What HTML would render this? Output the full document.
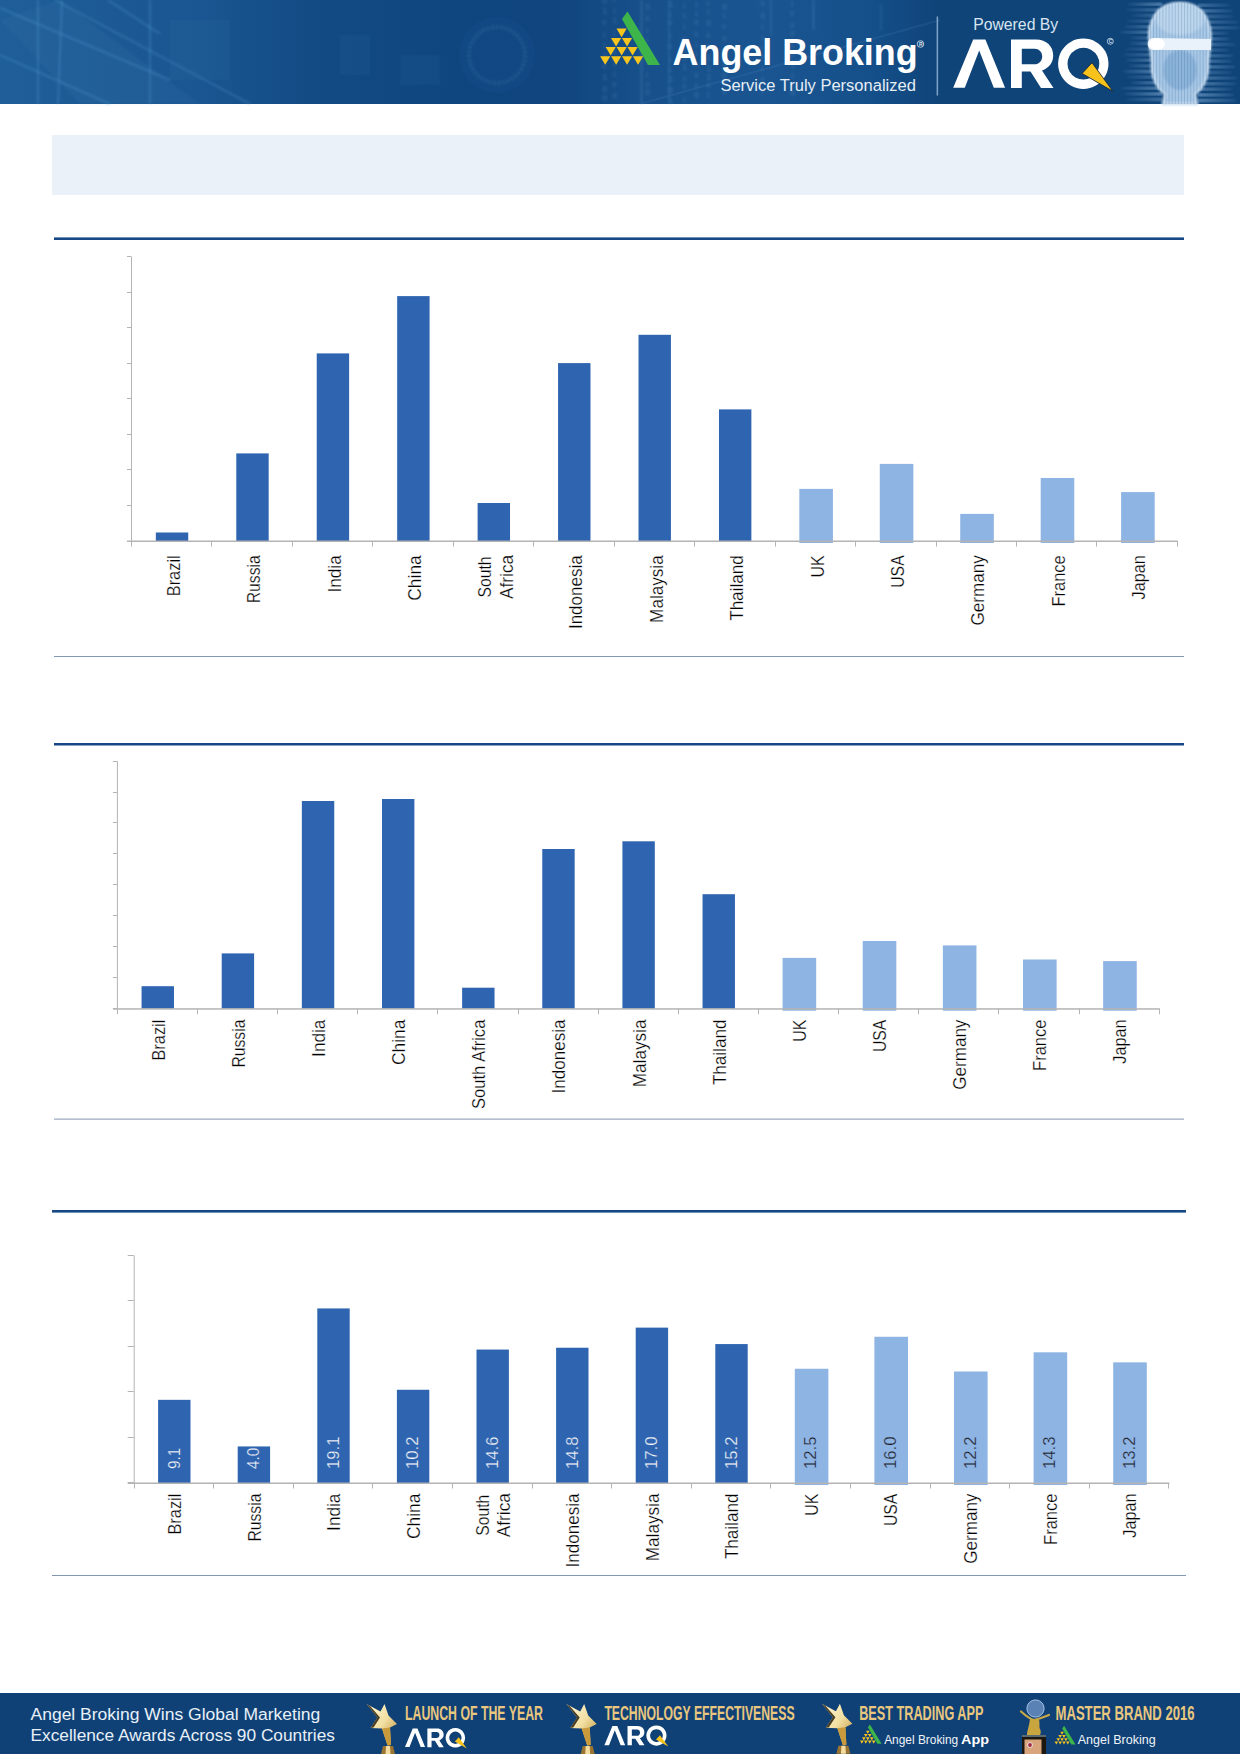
<!DOCTYPE html>
<html><head><meta charset="utf-8">
<style>
html,body{margin:0;padding:0;background:#fff;}
body{width:1240px;height:1754px;overflow:hidden;position:relative;font-family:"Liberation Sans",sans-serif;}
.hdr{position:absolute;left:0;top:0;width:1240px;height:104px;background:linear-gradient(90deg,#215f99 0%,#1c5891 22%,#154c85 42%,#114680 60%,#0f4479 80%,#0f4478 100%);overflow:hidden;}
.box{position:absolute;left:52px;top:135px;width:1132px;height:60px;background:#eaf1f8;}
.ftr{position:absolute;left:0;top:1693px;width:1240px;height:61px;background:#0f4176;overflow:hidden;}
svg{position:absolute;left:0;top:0;}
</style></head><body>
<div class="box"></div>
<svg width="1240" height="1754" viewBox="0 0 1240 1754" font-family="Liberation Sans, sans-serif">
<defs><linearGradient id="hg" gradientUnits="userSpaceOnUse" x1="0" y1="0" x2="1240" y2="0"><stop offset="0" stop-color="#1f5e98"/><stop offset="0.16" stop-color="#1a5691"/><stop offset="0.25" stop-color="#134b85"/><stop offset="0.36" stop-color="#0f4680"/><stop offset="0.45" stop-color="#10457f"/><stop offset="0.52" stop-color="#17508b"/><stop offset="0.62" stop-color="#1a5591"/><stop offset="0.70" stop-color="#15508b"/><stop offset="0.755" stop-color="#0f4479"/><stop offset="1" stop-color="#0f4479"/></linearGradient><radialGradient id="face" cx="0.5" cy="0.45" r="0.5"><stop offset="0" stop-color="#b4d0ea"/><stop offset="0.75" stop-color="#a2c4e4"/><stop offset="1" stop-color="#7eaad6" stop-opacity="0.6"/></radialGradient><linearGradient id="streak" x1="0" y1="0" x2="1" y2="0"><stop offset="0" stop-color="#8fb8e0" stop-opacity="0"/><stop offset="0.25" stop-color="#9cc2e6" stop-opacity="0.55"/><stop offset="0.75" stop-color="#9cc2e6" stop-opacity="0.55"/><stop offset="1" stop-color="#8fb8e0" stop-opacity="0"/></linearGradient><linearGradient id="stl" x1="0" y1="0" x2="1" y2="0"><stop offset="0" stop-color="#8db6de" stop-opacity="0.1"/><stop offset="1" stop-color="#a8cbec" stop-opacity="0.8"/></linearGradient><linearGradient id="str" x1="0" y1="0" x2="1" y2="0"><stop offset="0" stop-color="#a8cbec" stop-opacity="0.8"/><stop offset="1" stop-color="#8db6de" stop-opacity="0.15"/></linearGradient><filter id="blur1" x="-10%" y="-10%" width="120%" height="120%"><feGaussianBlur stdDeviation="1.2"/></filter><filter id="blur2" x="-10%" y="-10%" width="120%" height="120%"><feGaussianBlur stdDeviation="0.8"/></filter></defs>
<rect x="0" y="0" width="1240" height="104" fill="url(#hg)"/>
<g stroke="#4f92c8" stroke-opacity="0.28" stroke-width="2.5" fill="none" filter="url(#blur1)"><path d="M0 8 L170 80"/><path d="M0 55 L110 104"/><path d="M55 0 L250 104"/><path d="M108 0 L160 34"/><path d="M38 0 L38 104"/><path d="M62 0 L58 104"/><path d="M150 0 L150 104"/></g>
<path d="M0 20 L60 0 L200 104 L80 104 Z" fill="#5a9ad0" fill-opacity="0.08" filter="url(#blur1)"/>
<g fill="#3a7ab5" fill-opacity="0.10" filter="url(#blur1)"><rect x="170" y="20" width="60" height="60"/><rect x="340" y="35" width="30" height="40"/><rect x="400" y="55" width="40" height="30"/></g>
<circle cx="497" cy="55" r="28" fill="none" stroke="#5a92c8" stroke-opacity="0.22" stroke-width="4" stroke-dasharray="2.5 2" filter="url(#blur2)"/>
<circle cx="497" cy="55" r="38" fill="#2a6aa5" fill-opacity="0.10"/>
<g fill="#6fa4d6" fill-opacity="0.14" filter="url(#blur2)"><rect x="640" y="0" width="3" height="104"/><rect x="668" y="0" width="2" height="104"/><rect x="770" y="0" width="2" height="35"/><rect x="812" y="0" width="3" height="30"/><rect x="880" y="5" width="2" height="25"/></g>
<g fill="#8bb8e4" fill-opacity="0.22" font-family="Liberation Mono, monospace" filter="url(#blur2)"><text x="602" y="3.9" font-size="9">0</text><text x="602" y="13.8" font-size="9">1</text><text x="602" y="24.9" font-size="7">0</text><text x="602" y="37.4" font-size="8">1</text><text x="602" y="48.2" font-size="7">1</text><text x="602" y="58.9" font-size="9">1</text><text x="602" y="68.9" font-size="7">0</text><text x="602" y="80.0" font-size="9">1</text><text x="602" y="91.8" font-size="9">0</text><text x="602" y="100.5" font-size="9">0</text><text x="612" y="2.2" font-size="8">1</text><text x="612" y="13.2" font-size="8">1</text><text x="612" y="23.2" font-size="9">1</text><text x="612" y="36.0" font-size="7">1</text><text x="612" y="44.5" font-size="7">1</text><text x="612" y="53.6" font-size="9">1</text><text x="612" y="65.5" font-size="8">1</text><text x="612" y="76.0" font-size="8">1</text><text x="612" y="86.7" font-size="8">0</text><text x="612" y="99.2" font-size="9">0</text><text x="645" y="9.9" font-size="9">0</text><text x="645" y="21.4" font-size="8">0</text><text x="645" y="33.0" font-size="7">1</text><text x="645" y="42.4" font-size="7">1</text><text x="645" y="54.7" font-size="8">0</text><text x="645" y="64.4" font-size="7">1</text><text x="645" y="76.9" font-size="7">1</text><text x="645" y="87.0" font-size="8">0</text><text x="645" y="95.2" font-size="9">0</text><text x="668" y="6.7" font-size="9">1</text><text x="668" y="17.2" font-size="7">1</text><text x="668" y="25.3" font-size="7">0</text><text x="668" y="38.0" font-size="8">1</text><text x="668" y="49.1" font-size="7">0</text><text x="668" y="62.0" font-size="8">1</text><text x="668" y="71.8" font-size="7">1</text><text x="668" y="81.6" font-size="9">1</text><text x="668" y="92.9" font-size="9">0</text><text x="668" y="104.0" font-size="9">1</text><text x="682" y="7.8" font-size="7">1</text><text x="682" y="17.9" font-size="8">1</text><text x="682" y="28.7" font-size="7">1</text><text x="682" y="41.6" font-size="8">0</text><text x="682" y="51.5" font-size="9">0</text><text x="682" y="59.8" font-size="9">1</text><text x="682" y="70.1" font-size="9">1</text><text x="682" y="81.2" font-size="8">1</text><text x="682" y="89.3" font-size="7">0</text><text x="682" y="102.1" font-size="8">1</text><text x="694" y="6.8" font-size="7">1</text><text x="694" y="15.7" font-size="8">1</text><text x="694" y="25.2" font-size="8">0</text><text x="694" y="37.1" font-size="7">0</text><text x="694" y="46.7" font-size="7">1</text><text x="694" y="55.8" font-size="7">1</text><text x="694" y="67.1" font-size="7">0</text><text x="694" y="78.1" font-size="8">0</text><text x="694" y="88.3" font-size="7">0</text><text x="694" y="98.0" font-size="9">0</text><text x="706" y="5.6" font-size="7">0</text><text x="706" y="13.8" font-size="7">1</text><text x="706" y="25.8" font-size="9">0</text><text x="706" y="38.1" font-size="8">0</text><text x="706" y="50.2" font-size="8">0</text><text x="706" y="60.3" font-size="9">1</text><text x="706" y="70.6" font-size="9">1</text><text x="706" y="80.0" font-size="9">1</text><text x="706" y="88.2" font-size="8">0</text><text x="706" y="97.2" font-size="8">1</text><text x="722" y="9.9" font-size="9">0</text><text x="722" y="18.0" font-size="8">1</text><text x="722" y="28.8" font-size="7">0</text><text x="722" y="41.1" font-size="8">0</text><text x="722" y="53.1" font-size="7">0</text><text x="722" y="65.6" font-size="9">0</text><text x="722" y="78.1" font-size="8">0</text><text x="722" y="86.2" font-size="9">0</text><text x="722" y="95.0" font-size="8">0</text><text x="760" y="6.2" font-size="8">0</text><text x="760" y="18.9" font-size="9">0</text><text x="760" y="28.6" font-size="8">1</text><text x="760" y="40.7" font-size="7">1</text><text x="760" y="49.8" font-size="7">0</text><text x="760" y="58.6" font-size="8">0</text><text x="760" y="70.7" font-size="7">1</text><text x="760" y="81.9" font-size="8">0</text><text x="760" y="93.7" font-size="7">1</text><text x="790" y="6.2" font-size="7">1</text><text x="790" y="15.8" font-size="7">0</text><text x="790" y="27.6" font-size="7">0</text><text x="790" y="35.9" font-size="8">0</text><text x="790" y="48.2" font-size="7">1</text><text x="790" y="57.8" font-size="8">0</text><text x="790" y="67.5" font-size="9">1</text><text x="790" y="78.4" font-size="8">1</text><text x="790" y="87.4" font-size="8">1</text><text x="790" y="96.0" font-size="9">0</text></g>
<path d="M640 104 L940 20" stroke="#6aa0d4" stroke-opacity="0.12" stroke-width="2" fill="none"/>
<path d="M616.52 28.60 L626.68 28.60 L621.60 37.20 Z M611.02 37.90 L621.18 37.90 L616.10 46.50 Z M621.98 37.90 L632.13 37.90 L627.05 46.50 Z M605.62 47.00 L615.78 47.00 L610.70 55.60 Z M616.58 47.00 L626.73 47.00 L621.65 55.60 Z M627.52 47.00 L637.68 47.00 L632.60 55.60 Z M600.12 56.20 L610.28 56.20 L605.20 64.80 Z M611.08 56.20 L621.23 56.20 L616.15 64.80 Z M622.02 56.20 L632.18 56.20 L627.10 64.80 Z M632.98 56.20 L643.13 56.20 L638.05 64.80 Z" fill="#f8c51c"/>
<path d="M622.00 19.00 L627.50 11.50 L660.00 65.00 L648.00 65.00 Z" fill="#3db54a"/>
<text x="672.6" y="65.4" font-size="36" font-weight="bold" fill="#ffffff" textLength="245" lengthAdjust="spacingAndGlyphs">Angel Broking</text>
<circle cx="920.5" cy="44" r="3.3" fill="none" stroke="#e0e8f0" stroke-width="0.8"/><text x="918.9" y="45.9" font-size="5" font-weight="bold" fill="#e0e8f0">R</text>
<text x="720.4" y="90.5" font-size="17.2" fill="#e6eef6" textLength="195.5" lengthAdjust="spacingAndGlyphs">Service Truly Personalized</text>
<rect x="936.6" y="16.5" width="1.5" height="79" fill="#7fa3c8"/>
<text x="973.2" y="29.7" font-size="16.2" fill="#d8e4f0" textLength="85" lengthAdjust="spacingAndGlyphs">Powered By</text>
<path d="M953.2 87.8 L973.2 39.5 L985.4 39.5 L1005.1 87.8 L993.8 87.8 L979.2 50.5 L964.8 87.8 Z" fill="#ffffff"/><path d="M1011 39.6 L1036 39.6 C1046.5 39.6 1053.2 46.5 1053.2 55.5 C1053.2 62.5 1049 68 1042 70.5 L1053.5 88 L1041 88 L1030.5 71.5 L1021.8 71.5 L1021.8 88 L1011 88 Z M1021.8 48.8 L1034.5 48.8 C1039 48.8 1042.2 52 1042.2 56.5 C1042.2 61 1039 64.3 1034.5 64.3 L1021.8 64.3 Z" fill="#ffffff" fill-rule="evenodd"/><path d="M1083.3 38.5 A25.2 25.2 0 1 1 1083.29 38.5 Z M1083.4 47.8 A15.9 15.9 0 1 0 1083.41 47.8 Z" fill="#ffffff" fill-rule="evenodd"/>
<path d="M1082.1 73.5 L1092 62.7 L1112.9 91.3 Z" fill="#f6c21b" stroke="#1b2a3a" stroke-width="0.9" stroke-linejoin="round"/>
<circle cx="1110.3" cy="41.3" r="3" fill="none" stroke="#c8d8e8" stroke-width="0.9"/><text x="1108.8" y="43.1" font-size="4.8" font-weight="bold" fill="#c8d8e8">C</text>
<g>
<rect x="1128.1" y="3.0" width="33.9" height="2.6" fill="url(#stl)" opacity="0.78" filter="url(#blur2)"/>
<rect x="1198.0" y="4.0" width="31.8" height="2.6" fill="url(#str)" opacity="0.58" filter="url(#blur2)"/>
<rect x="1125.6" y="8.6" width="36.4" height="2.6" fill="url(#stl)" opacity="0.57" filter="url(#blur2)"/>
<rect x="1198.0" y="9.6" width="34.4" height="2.6" fill="url(#str)" opacity="0.73" filter="url(#blur2)"/>
<rect x="1131.6" y="14.2" width="30.4" height="2.6" fill="url(#stl)" opacity="0.57" filter="url(#blur2)"/>
<rect x="1198.0" y="15.2" width="35.2" height="2.6" fill="url(#str)" opacity="0.58" filter="url(#blur2)"/>
<rect x="1126.9" y="19.8" width="35.1" height="2.6" fill="url(#stl)" opacity="0.59" filter="url(#blur2)"/>
<rect x="1198.0" y="20.8" width="39.9" height="2.6" fill="url(#str)" opacity="0.63" filter="url(#blur2)"/>
<rect x="1124.5" y="25.4" width="37.5" height="2.6" fill="url(#stl)" opacity="0.75" filter="url(#blur2)"/>
<rect x="1198.0" y="26.4" width="41.4" height="2.6" fill="url(#str)" opacity="0.69" filter="url(#blur2)"/>
<rect x="1120.3" y="31.0" width="41.7" height="2.6" fill="url(#stl)" opacity="0.85" filter="url(#blur2)"/>
<rect x="1198.0" y="32.0" width="30.6" height="2.6" fill="url(#str)" opacity="0.65" filter="url(#blur2)"/>
<rect x="1130.3" y="36.6" width="31.7" height="2.6" fill="url(#stl)" opacity="0.66" filter="url(#blur2)"/>
<rect x="1198.0" y="37.6" width="31.4" height="2.6" fill="url(#str)" opacity="0.84" filter="url(#blur2)"/>
<rect x="1129.8" y="42.2" width="32.2" height="2.6" fill="url(#stl)" opacity="0.77" filter="url(#blur2)"/>
<rect x="1198.0" y="43.2" width="37.0" height="2.6" fill="url(#str)" opacity="0.68" filter="url(#blur2)"/>
<rect x="1125.4" y="47.8" width="36.6" height="2.6" fill="url(#stl)" opacity="0.57" filter="url(#blur2)"/>
<rect x="1198.0" y="48.8" width="30.8" height="2.6" fill="url(#str)" opacity="0.62" filter="url(#blur2)"/>
<rect x="1123.8" y="53.4" width="38.2" height="2.6" fill="url(#stl)" opacity="0.66" filter="url(#blur2)"/>
<rect x="1198.0" y="54.4" width="35.1" height="2.6" fill="url(#str)" opacity="0.75" filter="url(#blur2)"/>
<rect x="1126.6" y="59.0" width="35.4" height="2.6" fill="url(#stl)" opacity="0.83" filter="url(#blur2)"/>
<rect x="1198.0" y="60.0" width="33.6" height="2.6" fill="url(#str)" opacity="0.79" filter="url(#blur2)"/>
<rect x="1129.1" y="64.6" width="32.9" height="2.6" fill="url(#stl)" opacity="0.73" filter="url(#blur2)"/>
<rect x="1198.0" y="65.6" width="36.9" height="2.6" fill="url(#str)" opacity="0.86" filter="url(#blur2)"/>
<rect x="1123.2" y="70.2" width="38.8" height="2.6" fill="url(#stl)" opacity="0.89" filter="url(#blur2)"/>
<rect x="1198.0" y="71.2" width="33.5" height="2.6" fill="url(#str)" opacity="0.59" filter="url(#blur2)"/>
<rect x="1127.0" y="75.8" width="35.0" height="2.6" fill="url(#stl)" opacity="0.60" filter="url(#blur2)"/>
<rect x="1198.0" y="76.8" width="39.1" height="2.6" fill="url(#str)" opacity="0.72" filter="url(#blur2)"/>
<rect x="1131.5" y="81.4" width="30.5" height="2.6" fill="url(#stl)" opacity="0.82" filter="url(#blur2)"/>
<rect x="1198.0" y="82.4" width="38.0" height="2.6" fill="url(#str)" opacity="0.75" filter="url(#blur2)"/>
<rect x="1121.5" y="87.0" width="40.5" height="2.6" fill="url(#stl)" opacity="0.79" filter="url(#blur2)"/>
<rect x="1198.0" y="88.0" width="33.8" height="2.6" fill="url(#str)" opacity="0.76" filter="url(#blur2)"/>
<rect x="1125.0" y="92.6" width="37.0" height="2.6" fill="url(#stl)" opacity="0.84" filter="url(#blur2)"/>
<rect x="1198.0" y="93.6" width="35.5" height="2.6" fill="url(#str)" opacity="0.88" filter="url(#blur2)"/>
<rect x="1126.3" y="98.2" width="35.7" height="2.6" fill="url(#stl)" opacity="0.57" filter="url(#blur2)"/>
<rect x="1198.0" y="99.2" width="38.0" height="2.6" fill="url(#str)" opacity="0.80" filter="url(#blur2)"/>
<path d="M1150 45 C1146 20 1158 3 1180 3 C1202 3 1213 20 1210 45 L1208 62 C1209 75 1204 88 1195 94 L1197 104 L1163 104 L1165 94 C1156 88 1151 75 1152 62 Z" fill="#a9c8e6" stroke="#cfe2f4" stroke-width="2.5" filter="url(#blur2)"/>
<ellipse cx="1180" cy="70" rx="17" ry="20" fill="#6c9bc9" fill-opacity="0.45" filter="url(#blur1)"/>
<ellipse cx="1180" cy="20" rx="24" ry="15" fill="#d4e6f6" fill-opacity="0.45" filter="url(#blur1)"/>
<g fill="#1a5590" fill-opacity="0.22">
<rect x="1150.0" y="3" width="0.9" height="101"/>
<rect x="1153.1" y="3" width="0.9" height="101"/>
<rect x="1156.2" y="3" width="0.9" height="101"/>
<rect x="1159.3" y="3" width="0.9" height="101"/>
<rect x="1162.4" y="3" width="0.9" height="101"/>
<rect x="1165.5" y="3" width="0.9" height="101"/>
<rect x="1168.6" y="3" width="0.9" height="101"/>
<rect x="1171.7" y="3" width="0.9" height="101"/>
<rect x="1174.8" y="3" width="0.9" height="101"/>
<rect x="1177.9" y="3" width="0.9" height="101"/>
<rect x="1181.0" y="3" width="0.9" height="101"/>
<rect x="1184.1" y="3" width="0.9" height="101"/>
<rect x="1187.2" y="3" width="0.9" height="101"/>
<rect x="1190.3" y="3" width="0.9" height="101"/>
<rect x="1193.4" y="3" width="0.9" height="101"/>
<rect x="1196.5" y="3" width="0.9" height="101"/>
<rect x="1199.6" y="3" width="0.9" height="101"/>
<rect x="1202.7" y="3" width="0.9" height="101"/>
<rect x="1205.8" y="3" width="0.9" height="101"/>
<rect x="1208.9" y="3" width="0.9" height="101"/>
</g>
<path d="M1153 38 L1211 39 L1211 50 L1153 50 C1146 50 1146 38 1153 38 Z" fill="#e9f2fb"/>
<ellipse cx="1157" cy="44" rx="8" ry="6" fill="#ffffff"/>
</g>
<defs><linearGradient id="gold" x1="0" y1="0" x2="1" y2="1"><stop offset="0" stop-color="#fff6d6"/><stop offset="0.5" stop-color="#f2dfa2"/><stop offset="1" stop-color="#b88a2e"/></linearGradient></defs>
<rect x="0" y="1693" width="1240" height="61" fill="#0f4176"/>
<text x="30.5" y="1719.7" font-size="17.4" fill="#e8f0f8" textLength="289.8" lengthAdjust="spacingAndGlyphs">Angel Broking Wins Global Marketing</text>
<text x="30.5" y="1740.5" font-size="17.4" fill="#e8f0f8" textLength="304.4" lengthAdjust="spacingAndGlyphs">Excellence Awards Across 90 Countries</text>
<path d="M366.60 1704.00 L380.50 1711.50 L384.50 1704.00 L388.50 1715.50 L397.00 1724.00 L390.00 1727.50 L391.00 1745.00 L387.50 1745.50 L382.00 1728.50 L370.50 1728.00 L377.50 1717.50 Z" fill="url(#gold)"/><path d="M382.00 1728.50 L390.00 1727.50 L391.00 1745.00 L387.50 1745.50 Z" fill="#c89a3c"/><path d="M366.60 1704.00 L377.50 1717.50 L370.50 1728.00 L373.50 1727.50 L380.00 1717.50 L370.00 1706.00 Z" fill="#2a1e08" fill-opacity="0.85"/><path d="M383.00 1746.00 L393.00 1746.00 L395.00 1754.00 L381.00 1754.00 Z" fill="#9a7430"/><path d="M386.00 1746.00 L390.00 1746.00 L390.50 1754.00 L385.50 1754.00 Z" fill="#f2dca0"/>
<text x="405" y="1720.1" font-size="21" font-weight="bold" fill="#e9c77e" textLength="138" lengthAdjust="spacingAndGlyphs">LAUNCH OF THE YEAR</text>
<g transform="translate(405.00,1728.00) scale(0.387) translate(-953.2,-38.5)"><path d="M953.2 87.8 L973.2 39.5 L985.4 39.5 L1005.1 87.8 L993.8 87.8 L979.2 50.5 L964.8 87.8 Z" fill="#ffffff"/><path d="M1011 39.6 L1036 39.6 C1046.5 39.6 1053.2 46.5 1053.2 55.5 C1053.2 62.5 1049 68 1042 70.5 L1053.5 88 L1041 88 L1030.5 71.5 L1021.8 71.5 L1021.8 88 L1011 88 Z M1021.8 48.8 L1034.5 48.8 C1039 48.8 1042.2 52 1042.2 56.5 C1042.2 61 1039 64.3 1034.5 64.3 L1021.8 64.3 Z" fill="#ffffff" fill-rule="evenodd"/><path d="M1083.3 38.5 A25.2 25.2 0 1 1 1083.29 38.5 Z M1083.4 47.8 A15.9 15.9 0 1 0 1083.41 47.8 Z" fill="#ffffff" fill-rule="evenodd"/><path d="M1082.1 73.5 L1092 62.7 L1112.9 91.3 Z" fill="#f6c21b"/></g>
<path d="M566.30 1704.00 L580.20 1711.50 L584.20 1704.00 L588.20 1715.50 L596.70 1724.00 L589.70 1727.50 L590.70 1745.00 L587.20 1745.50 L581.70 1728.50 L570.20 1728.00 L577.20 1717.50 Z" fill="url(#gold)"/><path d="M581.70 1728.50 L589.70 1727.50 L590.70 1745.00 L587.20 1745.50 Z" fill="#c89a3c"/><path d="M566.30 1704.00 L577.20 1717.50 L570.20 1728.00 L573.20 1727.50 L579.70 1717.50 L569.70 1706.00 Z" fill="#2a1e08" fill-opacity="0.85"/><path d="M582.70 1746.00 L592.70 1746.00 L594.70 1754.00 L580.70 1754.00 Z" fill="#9a7430"/><path d="M585.70 1746.00 L589.70 1746.00 L590.20 1754.00 L585.20 1754.00 Z" fill="#f2dca0"/>
<text x="604.4" y="1719.8" font-size="20" font-weight="bold" fill="#e9c77e" textLength="190.2" lengthAdjust="spacingAndGlyphs">TECHNOLOGY EFFECTIVENESS</text>
<g transform="translate(604.40,1725.50) scale(0.4) translate(-953.2,-38.5)"><path d="M953.2 87.8 L973.2 39.5 L985.4 39.5 L1005.1 87.8 L993.8 87.8 L979.2 50.5 L964.8 87.8 Z" fill="#ffffff"/><path d="M1011 39.6 L1036 39.6 C1046.5 39.6 1053.2 46.5 1053.2 55.5 C1053.2 62.5 1049 68 1042 70.5 L1053.5 88 L1041 88 L1030.5 71.5 L1021.8 71.5 L1021.8 88 L1011 88 Z M1021.8 48.8 L1034.5 48.8 C1039 48.8 1042.2 52 1042.2 56.5 C1042.2 61 1039 64.3 1034.5 64.3 L1021.8 64.3 Z" fill="#ffffff" fill-rule="evenodd"/><path d="M1083.3 38.5 A25.2 25.2 0 1 1 1083.29 38.5 Z M1083.4 47.8 A15.9 15.9 0 1 0 1083.41 47.8 Z" fill="#ffffff" fill-rule="evenodd"/><path d="M1082.1 73.5 L1092 62.7 L1112.9 91.3 Z" fill="#f6c21b"/></g>
<path d="M822.00 1703.70 L835.90 1711.20 L839.90 1703.70 L843.90 1715.20 L852.40 1723.70 L845.40 1727.20 L846.40 1744.70 L842.90 1745.20 L837.40 1728.20 L825.90 1727.70 L832.90 1717.20 Z" fill="url(#gold)"/><path d="M837.40 1728.20 L845.40 1727.20 L846.40 1744.70 L842.90 1745.20 Z" fill="#c89a3c"/><path d="M822.00 1703.70 L832.90 1717.20 L825.90 1727.70 L828.90 1727.20 L835.40 1717.20 L825.40 1705.70 Z" fill="#2a1e08" fill-opacity="0.85"/><path d="M838.40 1745.70 L848.40 1745.70 L850.40 1753.70 L836.40 1753.70 Z" fill="#9a7430"/><path d="M841.40 1745.70 L845.40 1745.70 L845.90 1753.70 L840.90 1753.70 Z" fill="#f2dca0"/>
<text x="859.2" y="1719.8" font-size="20.5" font-weight="bold" fill="#e9c77e" textLength="124.2" lengthAdjust="spacingAndGlyphs">BEST TRADING APP</text>
<path d="M865.95 1730.68 L869.60 1730.68 L867.78 1733.77 Z M863.97 1734.02 L867.62 1734.02 L865.80 1737.12 Z M867.91 1734.02 L871.57 1734.02 L869.74 1737.12 Z M862.02 1737.30 L865.68 1737.30 L863.85 1740.40 Z M865.97 1737.30 L869.62 1737.30 L867.79 1740.40 Z M869.91 1737.30 L873.56 1737.30 L871.74 1740.40 Z M860.04 1740.61 L863.70 1740.61 L861.87 1743.71 Z M863.99 1740.61 L867.64 1740.61 L865.81 1743.71 Z M867.93 1740.61 L871.58 1740.61 L869.76 1743.71 Z M871.87 1740.61 L875.53 1740.61 L873.70 1743.71 Z" fill="#f8c51c"/>
<path d="M867.92 1727.22 L869.90 1724.52 L881.60 1743.78 L877.28 1743.78 Z" fill="#3db54a"/>
<text x="884.2" y="1744" font-size="12.5" fill="#f0f4f8" textLength="74" lengthAdjust="spacingAndGlyphs">Angel Broking</text>
<text x="961" y="1744" font-size="12.5" font-weight="bold" fill="#ffffff" textLength="28" lengthAdjust="spacingAndGlyphs">App</text>
<circle cx="1035.5" cy="1708.5" r="8.6" fill="#5a82b4" stroke="#a9c6ea" stroke-width="1"/>
<path d="M1021 1711.5 C1026 1716 1030 1719 1034 1720 C1039 1719 1044 1717 1049 1715" fill="none" stroke="#c9a848" stroke-width="2.2" stroke-linecap="round"/>
<path d="M1030 1719 L1039 1719 C1040 1725 1039 1727 1040 1729 C1041 1731 1041 1733 1040 1735 L1027 1735 C1027 1731 1029 1727 1030 1719 Z" fill="#c9a540"/>
<rect x="1022" y="1735" width="24" height="19" fill="#1c1810"/><rect x="1022" y="1735" width="24" height="2" fill="#5a6a70"/>
<rect x="1024.5" y="1739.5" width="17" height="14.5" fill="#d8a47c"/>
<circle cx="1030" cy="1745" r="2.8" fill="#e8e0e0"/><circle cx="1030" cy="1745" r="1.9" fill="#a02840"/>
<text x="1055.5" y="1719.7" font-size="20.5" font-weight="bold" fill="#e9c77e" textLength="139.1" lengthAdjust="spacingAndGlyphs">MASTER BRAND 2016</text>
<path d="M1060.28 1731.81 L1063.84 1731.81 L1062.06 1734.82 Z M1058.36 1735.07 L1061.91 1735.07 L1060.13 1738.08 Z M1062.19 1735.07 L1065.74 1735.07 L1063.97 1738.08 Z M1056.47 1738.25 L1060.02 1738.25 L1058.25 1741.26 Z M1060.30 1738.25 L1063.85 1738.25 L1062.08 1741.26 Z M1064.13 1738.25 L1067.69 1738.25 L1065.91 1741.26 Z M1054.54 1741.47 L1058.10 1741.47 L1056.32 1744.48 Z M1058.38 1741.47 L1061.93 1741.47 L1060.15 1744.48 Z M1062.21 1741.47 L1065.76 1741.47 L1063.98 1744.48 Z M1066.04 1741.47 L1069.59 1741.47 L1067.82 1744.48 Z" fill="#f8c51c"/>
<path d="M1062.20 1728.45 L1064.12 1725.83 L1075.50 1744.55 L1071.30 1744.55 Z" fill="#3db54a"/>
<text x="1077.7" y="1743.5" font-size="12.5" fill="#f0f4f8" textLength="77.9" lengthAdjust="spacingAndGlyphs">Angel Broking</text>
<rect x="131.00" y="256.50" width="1" height="285.00" fill="#b4b4b4"/>
<rect x="127.00" y="256" width="4" height="1" fill="#b4b4b4"/>
<rect x="127.00" y="292" width="4" height="1" fill="#b4b4b4"/>
<rect x="127.00" y="327" width="4" height="1" fill="#b4b4b4"/>
<rect x="127.00" y="363" width="4" height="1" fill="#b4b4b4"/>
<rect x="127.00" y="398" width="4" height="1" fill="#b4b4b4"/>
<rect x="127.00" y="434" width="4" height="1" fill="#b4b4b4"/>
<rect x="127.00" y="469" width="4" height="1" fill="#b4b4b4"/>
<rect x="127.00" y="505" width="4" height="1" fill="#b4b4b4"/>
<rect x="127.00" y="541" width="4" height="1" fill="#b4b4b4"/>
<rect x="155.83" y="532.50" width="32.40" height="8.50" fill="#2e64b0"/>
<rect x="236.28" y="453.40" width="32.40" height="87.60" fill="#2e64b0"/>
<rect x="316.73" y="353.40" width="32.40" height="187.60" fill="#2e64b0"/>
<rect x="397.18" y="296.10" width="32.40" height="244.90" fill="#2e64b0"/>
<rect x="477.63" y="503.00" width="32.40" height="38.00" fill="#2e64b0"/>
<rect x="558.07" y="363.10" width="32.40" height="177.90" fill="#2e64b0"/>
<rect x="638.52" y="334.80" width="32.40" height="206.20" fill="#2e64b0"/>
<rect x="718.97" y="409.40" width="32.40" height="131.60" fill="#2e64b0"/>
<rect x="799.33" y="488.90" width="33.60" height="54.10" fill="#8eb4e3"/>
<rect x="879.77" y="463.90" width="33.60" height="79.10" fill="#8eb4e3"/>
<rect x="960.23" y="513.90" width="33.60" height="29.10" fill="#8eb4e3"/>
<rect x="1040.68" y="478.00" width="33.60" height="65.00" fill="#8eb4e3"/>
<rect x="1121.12" y="492.10" width="33.60" height="50.90" fill="#8eb4e3"/>
<rect x="127.00" y="540.50" width="1050.85" height="1.5" fill="#b4b4b4"/>
<rect x="131" y="541.00" width="1" height="5.5" fill="#b4b4b4"/>
<rect x="211" y="541.00" width="1" height="5.5" fill="#b4b4b4"/>
<rect x="292" y="541.00" width="1" height="5.5" fill="#b4b4b4"/>
<rect x="372" y="541.00" width="1" height="5.5" fill="#b4b4b4"/>
<rect x="453" y="541.00" width="1" height="5.5" fill="#b4b4b4"/>
<rect x="533" y="541.00" width="1" height="5.5" fill="#b4b4b4"/>
<rect x="614" y="541.00" width="1" height="5.5" fill="#b4b4b4"/>
<rect x="694" y="541.00" width="1" height="5.5" fill="#b4b4b4"/>
<rect x="775" y="541.00" width="1" height="5.5" fill="#b4b4b4"/>
<rect x="855" y="541.00" width="1" height="5.5" fill="#b4b4b4"/>
<rect x="936" y="541.00" width="1" height="5.5" fill="#b4b4b4"/>
<rect x="1016" y="541.00" width="1" height="5.5" fill="#b4b4b4"/>
<rect x="1096" y="541.00" width="1" height="5.5" fill="#b4b4b4"/>
<rect x="1177" y="541.00" width="1" height="5.5" fill="#b4b4b4"/>
<text transform="translate(179.92,555.30) rotate(-90)" text-anchor="end" font-size="18.2" fill="#000" stroke="#ffffff" stroke-width="0.25" textLength="41.0" lengthAdjust="spacingAndGlyphs">Brazil</text>
<text transform="translate(260.38,555.30) rotate(-90)" text-anchor="end" font-size="18.2" fill="#000" stroke="#ffffff" stroke-width="0.25" textLength="48.0" lengthAdjust="spacingAndGlyphs">Russia</text>
<text transform="translate(340.82,555.30) rotate(-90)" text-anchor="end" font-size="18.2" fill="#000" stroke="#ffffff" stroke-width="0.25" textLength="37.3" lengthAdjust="spacingAndGlyphs">India</text>
<text transform="translate(421.27,555.30) rotate(-90)" text-anchor="end" font-size="18.2" fill="#000" stroke="#ffffff" stroke-width="0.25" textLength="45.4" lengthAdjust="spacingAndGlyphs">China</text>
<text transform="translate(490.88,576.90) rotate(-90)" text-anchor="middle" font-size="18.2" fill="#000" stroke="#ffffff" stroke-width="0.25" textLength="41.0" lengthAdjust="spacingAndGlyphs">South</text>
<text transform="translate(512.58,576.90) rotate(-90)" text-anchor="middle" font-size="18.2" fill="#000" stroke="#ffffff" stroke-width="0.25" textLength="44.2" lengthAdjust="spacingAndGlyphs">Africa</text>
<text transform="translate(582.18,555.30) rotate(-90)" text-anchor="end" font-size="18.2" fill="#000" stroke="#ffffff" stroke-width="0.25" textLength="73.8" lengthAdjust="spacingAndGlyphs">Indonesia</text>
<text transform="translate(662.63,555.30) rotate(-90)" text-anchor="end" font-size="18.2" fill="#000" stroke="#ffffff" stroke-width="0.25" textLength="67.6" lengthAdjust="spacingAndGlyphs">Malaysia</text>
<text transform="translate(743.08,555.30) rotate(-90)" text-anchor="end" font-size="18.2" fill="#000" stroke="#ffffff" stroke-width="0.25" textLength="65.5" lengthAdjust="spacingAndGlyphs">Thailand</text>
<text transform="translate(823.53,555.30) rotate(-90)" text-anchor="end" font-size="18.2" fill="#000" stroke="#ffffff" stroke-width="0.25" textLength="22.2" lengthAdjust="spacingAndGlyphs">UK</text>
<text transform="translate(903.98,555.30) rotate(-90)" text-anchor="end" font-size="18.2" fill="#000" stroke="#ffffff" stroke-width="0.25" textLength="32.5" lengthAdjust="spacingAndGlyphs">USA</text>
<text transform="translate(984.43,555.30) rotate(-90)" text-anchor="end" font-size="18.2" fill="#000" stroke="#ffffff" stroke-width="0.25" textLength="70.2" lengthAdjust="spacingAndGlyphs">Germany</text>
<text transform="translate(1064.88,555.30) rotate(-90)" text-anchor="end" font-size="18.2" fill="#000" stroke="#ffffff" stroke-width="0.25" textLength="51.3" lengthAdjust="spacingAndGlyphs">France</text>
<text transform="translate(1145.33,555.30) rotate(-90)" text-anchor="end" font-size="18.2" fill="#000" stroke="#ffffff" stroke-width="0.25" textLength="44.1" lengthAdjust="spacingAndGlyphs">Japan</text>
<rect x="116.90" y="761.10" width="1" height="248.10" fill="#b4b4b4"/>
<rect x="112.90" y="761" width="4" height="1" fill="#b4b4b4"/>
<rect x="112.90" y="792" width="4" height="1" fill="#b4b4b4"/>
<rect x="112.90" y="822" width="4" height="1" fill="#b4b4b4"/>
<rect x="112.90" y="853" width="4" height="1" fill="#b4b4b4"/>
<rect x="112.90" y="884" width="4" height="1" fill="#b4b4b4"/>
<rect x="112.90" y="915" width="4" height="1" fill="#b4b4b4"/>
<rect x="112.90" y="946" width="4" height="1" fill="#b4b4b4"/>
<rect x="112.90" y="977" width="4" height="1" fill="#b4b4b4"/>
<rect x="112.90" y="1008" width="4" height="1" fill="#b4b4b4"/>
<rect x="141.57" y="986.20" width="32.40" height="22.50" fill="#2e64b0"/>
<rect x="221.71" y="953.40" width="32.40" height="55.30" fill="#2e64b0"/>
<rect x="301.85" y="801.00" width="32.40" height="207.70" fill="#2e64b0"/>
<rect x="381.99" y="799.00" width="32.40" height="209.70" fill="#2e64b0"/>
<rect x="462.13" y="987.70" width="32.40" height="21.00" fill="#2e64b0"/>
<rect x="542.27" y="849.00" width="32.40" height="159.70" fill="#2e64b0"/>
<rect x="622.41" y="841.30" width="32.40" height="167.40" fill="#2e64b0"/>
<rect x="702.55" y="894.20" width="32.40" height="114.50" fill="#2e64b0"/>
<rect x="782.59" y="957.90" width="33.60" height="52.80" fill="#8eb4e3"/>
<rect x="862.73" y="941.00" width="33.60" height="69.70" fill="#8eb4e3"/>
<rect x="942.87" y="945.40" width="33.60" height="65.30" fill="#8eb4e3"/>
<rect x="1023.01" y="959.50" width="33.60" height="51.20" fill="#8eb4e3"/>
<rect x="1103.15" y="961.10" width="33.60" height="49.60" fill="#8eb4e3"/>
<rect x="112.90" y="1008.20" width="1046.82" height="1.5" fill="#b4b4b4"/>
<rect x="117" y="1008.70" width="1" height="5.5" fill="#b4b4b4"/>
<rect x="197" y="1008.70" width="1" height="5.5" fill="#b4b4b4"/>
<rect x="277" y="1008.70" width="1" height="5.5" fill="#b4b4b4"/>
<rect x="357" y="1008.70" width="1" height="5.5" fill="#b4b4b4"/>
<rect x="437" y="1008.70" width="1" height="5.5" fill="#b4b4b4"/>
<rect x="518" y="1008.70" width="1" height="5.5" fill="#b4b4b4"/>
<rect x="598" y="1008.70" width="1" height="5.5" fill="#b4b4b4"/>
<rect x="678" y="1008.70" width="1" height="5.5" fill="#b4b4b4"/>
<rect x="758" y="1008.70" width="1" height="5.5" fill="#b4b4b4"/>
<rect x="838" y="1008.70" width="1" height="5.5" fill="#b4b4b4"/>
<rect x="918" y="1008.70" width="1" height="5.5" fill="#b4b4b4"/>
<rect x="998" y="1008.70" width="1" height="5.5" fill="#b4b4b4"/>
<rect x="1079" y="1008.70" width="1" height="5.5" fill="#b4b4b4"/>
<rect x="1159" y="1008.70" width="1" height="5.5" fill="#b4b4b4"/>
<text transform="translate(164.67,1019.60) rotate(-90)" text-anchor="end" font-size="18.2" fill="#000" stroke="#ffffff" stroke-width="0.25" textLength="41.0" lengthAdjust="spacingAndGlyphs">Brazil</text>
<text transform="translate(244.81,1019.60) rotate(-90)" text-anchor="end" font-size="18.2" fill="#000" stroke="#ffffff" stroke-width="0.25" textLength="48.0" lengthAdjust="spacingAndGlyphs">Russia</text>
<text transform="translate(324.95,1019.60) rotate(-90)" text-anchor="end" font-size="18.2" fill="#000" stroke="#ffffff" stroke-width="0.25" textLength="37.3" lengthAdjust="spacingAndGlyphs">India</text>
<text transform="translate(405.09,1019.60) rotate(-90)" text-anchor="end" font-size="18.2" fill="#000" stroke="#ffffff" stroke-width="0.25" textLength="45.4" lengthAdjust="spacingAndGlyphs">China</text>
<text transform="translate(485.23,1019.60) rotate(-90)" text-anchor="end" font-size="18.2" fill="#000" stroke="#ffffff" stroke-width="0.25" textLength="89.5" lengthAdjust="spacingAndGlyphs">South Africa</text>
<text transform="translate(565.37,1019.60) rotate(-90)" text-anchor="end" font-size="18.2" fill="#000" stroke="#ffffff" stroke-width="0.25" textLength="73.8" lengthAdjust="spacingAndGlyphs">Indonesia</text>
<text transform="translate(645.51,1019.60) rotate(-90)" text-anchor="end" font-size="18.2" fill="#000" stroke="#ffffff" stroke-width="0.25" textLength="67.6" lengthAdjust="spacingAndGlyphs">Malaysia</text>
<text transform="translate(725.65,1019.60) rotate(-90)" text-anchor="end" font-size="18.2" fill="#000" stroke="#ffffff" stroke-width="0.25" textLength="65.5" lengthAdjust="spacingAndGlyphs">Thailand</text>
<text transform="translate(805.79,1019.60) rotate(-90)" text-anchor="end" font-size="18.2" fill="#000" stroke="#ffffff" stroke-width="0.25" textLength="22.2" lengthAdjust="spacingAndGlyphs">UK</text>
<text transform="translate(885.93,1019.60) rotate(-90)" text-anchor="end" font-size="18.2" fill="#000" stroke="#ffffff" stroke-width="0.25" textLength="32.5" lengthAdjust="spacingAndGlyphs">USA</text>
<text transform="translate(966.07,1019.60) rotate(-90)" text-anchor="end" font-size="18.2" fill="#000" stroke="#ffffff" stroke-width="0.25" textLength="70.2" lengthAdjust="spacingAndGlyphs">Germany</text>
<text transform="translate(1046.21,1019.60) rotate(-90)" text-anchor="end" font-size="18.2" fill="#000" stroke="#ffffff" stroke-width="0.25" textLength="51.3" lengthAdjust="spacingAndGlyphs">France</text>
<text transform="translate(1126.35,1019.60) rotate(-90)" text-anchor="end" font-size="18.2" fill="#000" stroke="#ffffff" stroke-width="0.25" textLength="44.1" lengthAdjust="spacingAndGlyphs">Japan</text>
<rect x="133.70" y="1255.40" width="1" height="228.10" fill="#b4b4b4"/>
<rect x="127.70" y="1255" width="6" height="1" fill="#b4b4b4"/>
<rect x="127.70" y="1300" width="6" height="1" fill="#b4b4b4"/>
<rect x="127.70" y="1346" width="6" height="1" fill="#b4b4b4"/>
<rect x="127.70" y="1391" width="6" height="1" fill="#b4b4b4"/>
<rect x="127.70" y="1437" width="6" height="1" fill="#b4b4b4"/>
<rect x="127.70" y="1482" width="6" height="1" fill="#b4b4b4"/>
<rect x="158.10" y="1399.83" width="32.40" height="83.17" fill="#2e64b0"/>
<rect x="237.70" y="1446.44" width="32.40" height="36.56" fill="#2e64b0"/>
<rect x="317.30" y="1308.43" width="32.40" height="174.57" fill="#2e64b0"/>
<rect x="396.90" y="1389.77" width="32.40" height="93.23" fill="#2e64b0"/>
<rect x="476.50" y="1349.56" width="32.40" height="133.44" fill="#2e64b0"/>
<rect x="556.10" y="1347.73" width="32.40" height="135.27" fill="#2e64b0"/>
<rect x="635.70" y="1327.62" width="32.40" height="155.38" fill="#2e64b0"/>
<rect x="715.30" y="1344.07" width="32.40" height="138.93" fill="#2e64b0"/>
<rect x="794.80" y="1368.75" width="33.60" height="116.25" fill="#8eb4e3"/>
<rect x="874.40" y="1336.76" width="33.60" height="148.24" fill="#8eb4e3"/>
<rect x="954.00" y="1371.49" width="33.60" height="113.51" fill="#8eb4e3"/>
<rect x="1033.60" y="1352.30" width="33.60" height="132.70" fill="#8eb4e3"/>
<rect x="1113.20" y="1362.35" width="33.60" height="122.65" fill="#8eb4e3"/>
<rect x="127.70" y="1482.50" width="1041.80" height="1.5" fill="#b4b4b4"/>
<rect x="134" y="1483.00" width="1" height="5.5" fill="#b4b4b4"/>
<rect x="213" y="1483.00" width="1" height="5.5" fill="#b4b4b4"/>
<rect x="293" y="1483.00" width="1" height="5.5" fill="#b4b4b4"/>
<rect x="372" y="1483.00" width="1" height="5.5" fill="#b4b4b4"/>
<rect x="452" y="1483.00" width="1" height="5.5" fill="#b4b4b4"/>
<rect x="532" y="1483.00" width="1" height="5.5" fill="#b4b4b4"/>
<rect x="611" y="1483.00" width="1" height="5.5" fill="#b4b4b4"/>
<rect x="691" y="1483.00" width="1" height="5.5" fill="#b4b4b4"/>
<rect x="770" y="1483.00" width="1" height="5.5" fill="#b4b4b4"/>
<rect x="850" y="1483.00" width="1" height="5.5" fill="#b4b4b4"/>
<rect x="930" y="1483.00" width="1" height="5.5" fill="#b4b4b4"/>
<rect x="1009" y="1483.00" width="1" height="5.5" fill="#b4b4b4"/>
<rect x="1089" y="1483.00" width="1" height="5.5" fill="#b4b4b4"/>
<rect x="1168" y="1483.00" width="1" height="5.5" fill="#b4b4b4"/>
<text transform="translate(181.00,1493.60) rotate(-90)" text-anchor="end" font-size="18.2" fill="#000" stroke="#ffffff" stroke-width="0.25" textLength="41.0" lengthAdjust="spacingAndGlyphs">Brazil</text>
<text transform="translate(260.60,1493.60) rotate(-90)" text-anchor="end" font-size="18.2" fill="#000" stroke="#ffffff" stroke-width="0.25" textLength="48.0" lengthAdjust="spacingAndGlyphs">Russia</text>
<text transform="translate(340.20,1493.60) rotate(-90)" text-anchor="end" font-size="18.2" fill="#000" stroke="#ffffff" stroke-width="0.25" textLength="37.3" lengthAdjust="spacingAndGlyphs">India</text>
<text transform="translate(419.80,1493.60) rotate(-90)" text-anchor="end" font-size="18.2" fill="#000" stroke="#ffffff" stroke-width="0.25" textLength="45.4" lengthAdjust="spacingAndGlyphs">China</text>
<text transform="translate(488.55,1515.20) rotate(-90)" text-anchor="middle" font-size="18.2" fill="#000" stroke="#ffffff" stroke-width="0.25" textLength="41.0" lengthAdjust="spacingAndGlyphs">South</text>
<text transform="translate(510.25,1515.20) rotate(-90)" text-anchor="middle" font-size="18.2" fill="#000" stroke="#ffffff" stroke-width="0.25" textLength="44.2" lengthAdjust="spacingAndGlyphs">Africa</text>
<text transform="translate(579.00,1493.60) rotate(-90)" text-anchor="end" font-size="18.2" fill="#000" stroke="#ffffff" stroke-width="0.25" textLength="73.8" lengthAdjust="spacingAndGlyphs">Indonesia</text>
<text transform="translate(658.60,1493.60) rotate(-90)" text-anchor="end" font-size="18.2" fill="#000" stroke="#ffffff" stroke-width="0.25" textLength="67.6" lengthAdjust="spacingAndGlyphs">Malaysia</text>
<text transform="translate(738.20,1493.60) rotate(-90)" text-anchor="end" font-size="18.2" fill="#000" stroke="#ffffff" stroke-width="0.25" textLength="65.5" lengthAdjust="spacingAndGlyphs">Thailand</text>
<text transform="translate(817.80,1493.60) rotate(-90)" text-anchor="end" font-size="18.2" fill="#000" stroke="#ffffff" stroke-width="0.25" textLength="22.2" lengthAdjust="spacingAndGlyphs">UK</text>
<text transform="translate(897.40,1493.60) rotate(-90)" text-anchor="end" font-size="18.2" fill="#000" stroke="#ffffff" stroke-width="0.25" textLength="32.5" lengthAdjust="spacingAndGlyphs">USA</text>
<text transform="translate(977.00,1493.60) rotate(-90)" text-anchor="end" font-size="18.2" fill="#000" stroke="#ffffff" stroke-width="0.25" textLength="70.2" lengthAdjust="spacingAndGlyphs">Germany</text>
<text transform="translate(1056.60,1493.60) rotate(-90)" text-anchor="end" font-size="18.2" fill="#000" stroke="#ffffff" stroke-width="0.25" textLength="51.3" lengthAdjust="spacingAndGlyphs">France</text>
<text transform="translate(1136.20,1493.60) rotate(-90)" text-anchor="end" font-size="18.2" fill="#000" stroke="#ffffff" stroke-width="0.25" textLength="44.1" lengthAdjust="spacingAndGlyphs">Japan</text>
<text transform="translate(179.58,1469.00) rotate(-90)" text-anchor="start" font-size="15.6" fill="#ffffff" stroke="#2e64b0" stroke-width="0.3" textLength="21.3" lengthAdjust="spacingAndGlyphs">9.1</text>
<text transform="translate(259.18,1469.00) rotate(-90)" text-anchor="start" font-size="15.6" fill="#ffffff" stroke="#2e64b0" stroke-width="0.3" textLength="21.3" lengthAdjust="spacingAndGlyphs">4.0</text>
<text transform="translate(338.78,1469.00) rotate(-90)" text-anchor="start" font-size="15.6" fill="#ffffff" stroke="#2e64b0" stroke-width="0.3" textLength="32.5" lengthAdjust="spacingAndGlyphs">19.1</text>
<text transform="translate(418.38,1469.00) rotate(-90)" text-anchor="start" font-size="15.6" fill="#ffffff" stroke="#2e64b0" stroke-width="0.3" textLength="32.5" lengthAdjust="spacingAndGlyphs">10.2</text>
<text transform="translate(497.98,1469.00) rotate(-90)" text-anchor="start" font-size="15.6" fill="#ffffff" stroke="#2e64b0" stroke-width="0.3" textLength="32.5" lengthAdjust="spacingAndGlyphs">14.6</text>
<text transform="translate(577.58,1469.00) rotate(-90)" text-anchor="start" font-size="15.6" fill="#ffffff" stroke="#2e64b0" stroke-width="0.3" textLength="32.5" lengthAdjust="spacingAndGlyphs">14.8</text>
<text transform="translate(657.18,1469.00) rotate(-90)" text-anchor="start" font-size="15.6" fill="#ffffff" stroke="#2e64b0" stroke-width="0.3" textLength="32.5" lengthAdjust="spacingAndGlyphs">17.0</text>
<text transform="translate(736.78,1469.00) rotate(-90)" text-anchor="start" font-size="15.6" fill="#ffffff" stroke="#2e64b0" stroke-width="0.3" textLength="32.5" lengthAdjust="spacingAndGlyphs">15.2</text>
<text transform="translate(816.38,1469.00) rotate(-90)" text-anchor="start" font-size="15.6" fill="#1a1a1a" stroke="#8eb4e3" stroke-width="0.3" textLength="32.5" lengthAdjust="spacingAndGlyphs">12.5</text>
<text transform="translate(895.98,1469.00) rotate(-90)" text-anchor="start" font-size="15.6" fill="#1a1a1a" stroke="#8eb4e3" stroke-width="0.3" textLength="32.5" lengthAdjust="spacingAndGlyphs">16.0</text>
<text transform="translate(975.58,1469.00) rotate(-90)" text-anchor="start" font-size="15.6" fill="#1a1a1a" stroke="#8eb4e3" stroke-width="0.3" textLength="32.5" lengthAdjust="spacingAndGlyphs">12.2</text>
<text transform="translate(1055.18,1469.00) rotate(-90)" text-anchor="start" font-size="15.6" fill="#1a1a1a" stroke="#8eb4e3" stroke-width="0.3" textLength="32.5" lengthAdjust="spacingAndGlyphs">14.3</text>
<text transform="translate(1134.78,1469.00) rotate(-90)" text-anchor="start" font-size="15.6" fill="#1a1a1a" stroke="#8eb4e3" stroke-width="0.3" textLength="32.5" lengthAdjust="spacingAndGlyphs">13.2</text>
<rect x="54" y="237.4" width="1130" height="2.6" fill="#174784"/>
<rect x="54" y="656" width="1130" height="1" fill="#8497b0"/>
<rect x="54" y="743" width="1130" height="2.5" fill="#174784"/>
<rect x="54" y="1118.6" width="1130" height="1" fill="#8497b0"/>
<rect x="52" y="1210" width="1134" height="2.6" fill="#174784"/>
<rect x="52" y="1575" width="1134" height="1" fill="#8497b0"/>
</svg>
</body></html>
